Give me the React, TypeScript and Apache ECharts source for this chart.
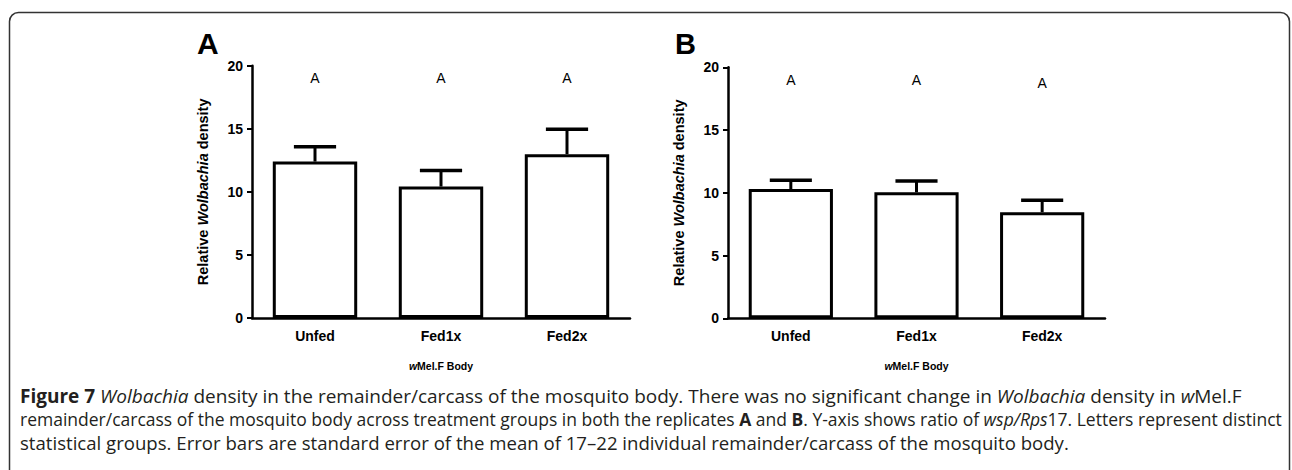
import React, { useEffect, useRef } from "react";
import * as echarts from "echarts";

const categories = ["Unfed", "Fed1x", "Fed2x"];
const meanA = [12.4, 10.42, 12.99];
const upperA = [13.57, 11.69, 14.97];
const letterA = ["A", "A", "A"];
const letterYA = [19.05, 19.05, 19.05];
const meanB = [10.3, 10.04, 8.45];
const upperB = [11.0, 10.94, 9.4];
const letterB = ["A", "A", "A"];
const letterYB = [19.0, 19.0, 18.75];
const yTicks = { min: 0, max: 20, interval: 5 };

const AX = "Liberation Sans, Arial, sans-serif";
const CAP = "Open Sans, sans-serif";

function errRender(params: any, api: any) {
  const x = api.value(0);
  const p0 = api.coord([x, api.value(1)]);
  const p1 = api.coord([x, api.value(2)]);
  const w = api.size([1, 0])[0] * 0.335;
  return {
    type: "group",
    children: [
      { type: "line", shape: { x1: p0[0], y1: p0[1], x2: p1[0], y2: p1[1] }, style: { stroke: "#000", lineWidth: 3 } },
      { type: "line", shape: { x1: p1[0] - w / 2, y1: p1[1], x2: p1[0] + w / 2, y2: p1[1] }, style: { stroke: "#000", lineWidth: 3.5 } },
    ],
  };
}

function letterRender(params: any, api: any) {
  const p = api.coord([api.value(0), api.value(1)]);
  const letters = params.seriesIndex === 2 ? letterA : letterB;
  return {
    type: "text",
    x: p[0],
    y: p[1],
    style: {
      text: letters[params.dataIndex],
      fill: "#000",
      fontFamily: AX,
      fontSize: 14,
      align: "center",
      verticalAlign: "middle",
    },
  };
}

function xAxis(idx: number) {
  return {
    type: "category",
    gridIndex: idx,
    data: categories,
    axisLine: { lineStyle: { color: "#000", width: 2.5 } },
    axisTick: { alignWithLabel: true, length: 5, lineStyle: { color: "#000", width: 2 } },
    axisLabel: { color: "#000", fontFamily: AX, fontWeight: "bold", fontSize: 14, margin: 11 },
    name: "{i|w}Mel.F Body",
    nameLocation: "middle",
    nameGap: 42,
    nameTextStyle: {
      color: "#000",
      fontFamily: AX,
      fontWeight: "bold",
      fontSize: 10.5,
      rich: { i: { fontStyle: "italic", fontWeight: "bold", fontFamily: AX, fontSize: 10.5, color: "#000" } },
    },
  };
}

function yAxis(idx: number) {
  return {
    type: "value",
    gridIndex: idx,
    min: yTicks.min,
    max: yTicks.max,
    interval: yTicks.interval,
    splitLine: { show: false },
    axisLine: { show: true, lineStyle: { color: "#000", width: 2.5 } },
    axisTick: { show: true, length: 5, lineStyle: { color: "#000", width: 2 } },
    axisLabel: { color: "#000", fontFamily: AX, fontWeight: "bold", fontSize: 14, margin: 9 },
    name: "Relative {i|Wolbachia} density",
    nameLocation: "middle",
    nameGap: 42,
    nameRotate: 90,
    nameTextStyle: {
      color: "#000",
      fontFamily: AX,
      fontWeight: "bold",
      fontSize: 14.5,
      rich: { i: { fontStyle: "italic", fontWeight: "bold", fontFamily: AX, fontSize: 14.5, color: "#000" } },
    },
  };
}

function barSeries(idx: number, data: number[]) {
  return {
    type: "bar",
    xAxisIndex: idx,
    yAxisIndex: idx,
    data,
    barWidth: "67%",
    itemStyle: { color: "#fff", borderColor: "#000", borderWidth: 3 },
    z: 2,
  };
}

function errSeries(idx: number, mean: number[], upper: number[]) {
  return {
    type: "custom",
    xAxisIndex: idx,
    yAxisIndex: idx,
    renderItem: errRender,
    encode: { x: 0, y: [1, 2] },
    data: mean.map((m, i) => [i, m, upper[i]]),
    z: 3,
  };
}

function letterSeries(idx: number, ys: number[]) {
  return {
    type: "custom",
    xAxisIndex: idx,
    yAxisIndex: idx,
    renderItem: letterRender,
    encode: { x: 0, y: 1 },
    data: ys.map((y, i) => [i, y]),
    z: 4,
  };
}

function capLine(y: number, size: number, text: string) {
  const rich = {
    b: { fontFamily: CAP, fontWeight: "bold", fontSize: size, color: "#231f20", lineHeight: 20 },
    i: { fontFamily: CAP, fontStyle: "italic", fontSize: size, color: "#231f20", lineHeight: 20 },
  };
  return {
    type: "text",
    x: 20,
    y,
    style: { text, rich, fontFamily: CAP, fontSize: size, lineHeight: 20, fill: "#231f20", verticalAlign: "middle" },
  };
}

export default function App() {
  const ref = useRef<HTMLDivElement>(null);
  useEffect(() => {
    const chart = echarts.init(ref.current!, undefined, { renderer: "svg" });
    chart.setOption({
      animation: false,
      backgroundColor: "#fff",
      grid: [
        { left: 252, top: 65.7, width: 378, height: 252.3 },
        { left: 728, top: 67.3, width: 377, height: 251 },
      ],
      xAxis: [xAxis(0), xAxis(1)],
      yAxis: [yAxis(0), yAxis(1)],
      series: [
        barSeries(0, meanA),
        errSeries(0, meanA, upperA),
        letterSeries(0, letterYA),
        barSeries(1, meanB),
        errSeries(1, meanB, upperB),
        letterSeries(1, letterYB),
      ],
      graphic: [
        {
          type: "rect",
          shape: { x: 9.5, y: 12.5, width: 1280, height: 500, r: [9, 9, 0, 0] },
          style: { fill: "none", stroke: "#333", lineWidth: 1.5 },
        },
        { type: "text", left: 197, top: 28, style: { text: "A", fontFamily: AX, fontWeight: "bold", fontSize: 30, fill: "#000" } },
        { type: "text", left: 675, top: 29, style: { text: "B", fontFamily: AX, fontWeight: "bold", fontSize: 29, fill: "#000" } },
        capLine(396, 19, "{b|Figure 7} {i|Wolbachia} density in the remainder/carcass of the mosquito body. There was no significant change in {i|Wolbachia} density in {i|w}Mel.F"),
        capLine(419, 17.5, "remainder/carcass of the mosquito body across treatment groups in both the replicates {b|A} and {b|B}. Y-axis shows ratio of {i|wsp/Rps}17. Letters represent distinct"),
        capLine(442, 18.6, "statistical groups. Error bars are standard error of the mean of 17\u201322 individual remainder/carcass of the mosquito body."),
      ],
    });
    return () => chart.dispose();
  }, []);
  return <div ref={ref} style={{ position: "fixed", left: 0, top: 0, width: 1292, height: 470 }} />;
}
